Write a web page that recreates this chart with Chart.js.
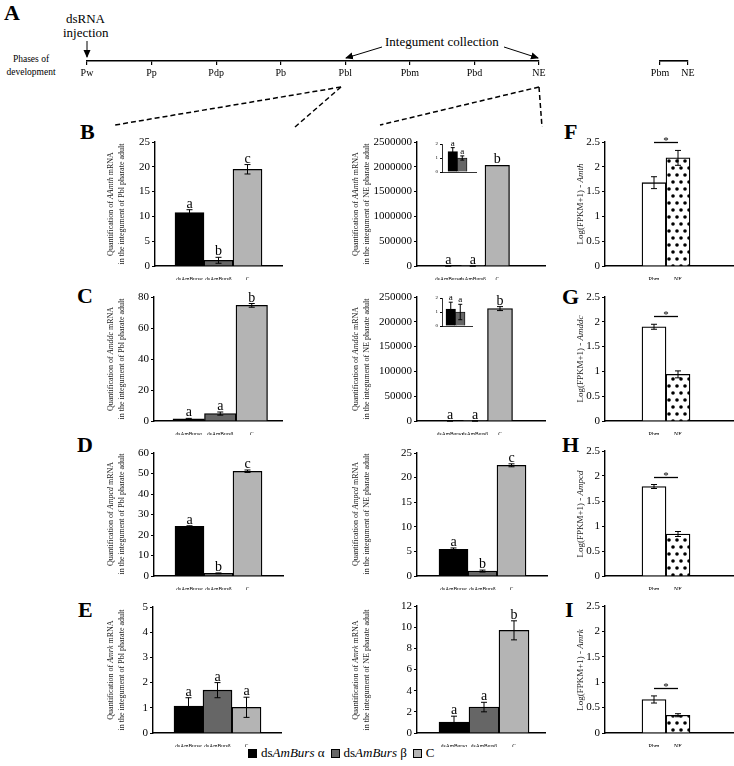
<!DOCTYPE html>
<html><head><meta charset="utf-8">
<script src="https://cdn.jsdelivr.net/npm/chart.js@4.4.1/dist/chart.umd.min.js"></script>
<style>
body{margin:0;width:734px;height:766px;position:relative;background:#fff;font-family:"Liberation Serif","Times New Roman",serif;overflow:hidden;color:#000}
canvas{position:absolute}
.t{position:absolute;white-space:nowrap;line-height:1}
.plab{position:absolute;font-weight:bold;font-size:22px;line-height:1}
.ytitle,.ytitle2{position:absolute;transform:translate(-50%,-50%) rotate(-90deg);white-space:nowrap;line-height:11px;text-align:center;color:#222;filter:grayscale(1);-webkit-font-smoothing:antialiased}
.ytitle{font-size:8px}
.ytitle2{font-size:9px}
#legend{position:absolute;left:248px;top:745px;font-size:13px;display:flex;align-items:center;white-space:nowrap}
#legend .b{display:inline-block;width:7px;height:7px;border:1px solid #000;margin-right:4px}
#legend .it{margin-right:6px}
</style></head><body>
<svg width="734" height="766" style="position:absolute;left:0;top:0;z-index:0">
  <defs><marker id="ah" markerWidth="8" markerHeight="8" refX="7" refY="4" orient="auto" markerUnits="userSpaceOnUse"><path d="M0,0.5 L8,4 L0,7.5 z" fill="#000"/></marker></defs>
  <line x1="87" y1="41" x2="87" y2="57" stroke="#000" stroke-width="1" marker-end="url(#ah)"/>
  <line x1="382" y1="47" x2="346" y2="58" stroke="#000" stroke-width="1" marker-end="url(#ah)"/>
  <line x1="504" y1="47" x2="538" y2="58" stroke="#000" stroke-width="1" marker-end="url(#ah)"/>
  <g stroke="#000" stroke-width="1.5" stroke-dasharray="5,3" fill="none">
    <line x1="341" y1="87" x2="115" y2="125"/>
    <line x1="341" y1="87" x2="295" y2="127"/>
    <line x1="539" y1="87" x2="380" y2="125"/>
    <line x1="539" y1="87" x2="542" y2="127"/>
  </g>
</svg>
<div class="plab" style="left:4px;top:2px">A</div>
<div class="t" style="left:66px;top:12px;font-size:13px">dsRNA</div>
<div class="t" style="left:63px;top:26px;font-size:13px">injection</div>
<div class="t" style="left:4px;top:53px;font-size:9.5px;text-align:center;width:54px;line-height:13px">Phases of<br>development</div>
<div class="t" style="left:385px;top:35px;font-size:13px">Integument collection</div>

<div class="plab" style="left:80px;top:121px">B</div>
<div class="plab" style="left:77px;top:285px">C</div>
<div class="plab" style="left:77px;top:434px">D</div>
<div class="plab" style="left:78px;top:599px">E</div>
<div class="plab" style="left:564px;top:121px">F</div>
<div class="plab" style="left:562px;top:286px">G</div>
<div class="plab" style="left:562px;top:434px">H</div>
<div class="plab" style="left:565px;top:599px">I</div>

<div class="ytitle" style="left:116px;top:204px">Quantification of <i>AAmth</i> mRNA<br>in the integument of Pbl pharate adult</div>
<div class="ytitle" style="left:361px;top:204px">Quantification of <i>AAmth</i> mRNA<br>in the integument of NE pharate adult</div>
<div class="ytitle2" style="left:580px;top:204px">Log(FPKM+1) - <i>Amth</i></div>
<div class="ytitle" style="left:116px;top:359px">Quantification of <i>Amddc</i> mRNA<br>in the integument of Pbl pharate adult</div>
<div class="ytitle" style="left:361px;top:359px">Quantification of <i>Amddc</i> mRNA<br>in the integument of NE pharate adult</div>
<div class="ytitle2" style="left:580px;top:359px">Log(FPKM+1) - <i>Amddc</i></div>
<div class="ytitle" style="left:116px;top:514px">Quantification of <i>Ampcd</i> mRNA<br>in the integument of Pbl pharate adult</div>
<div class="ytitle" style="left:361px;top:514px">Quantification of <i>Ampcd</i> mRNA<br>in the integument of NE pharate adult</div>
<div class="ytitle2" style="left:580px;top:514px">Log(FPKM+1) - <i>Ampcd</i></div>
<div class="ytitle" style="left:116px;top:670px">Quantification of <i>Amrk</i> mRNA<br>in the integument of Pbl pharate adult</div>
<div class="ytitle" style="left:361px;top:670px">Quantification of <i>Amrk</i> mRNA<br>in the integument of NE pharate adult</div>
<div class="ytitle2" style="left:580px;top:670px">Log(FPKM+1) - <i>Amrk</i></div>

<div id="legend">
  <span class="b" style="background:#000"></span><span class="it">ds<i>AmBurs</i> α</span>
  <span class="b" style="background:#666"></span><span class="it">ds<i>AmBurs</i> β</span>
  <span class="b" style="background:#b4b4b4"></span><span>C</span>
</div>

<script>
// ---------- data ----------
const phases = ['Pw','Pp','Pdp','Pb','Pbl','Pbm','Pbd','NE'];
const rnaseqPhases = ['Pbm','NE'];
const treatments = ['dsAmBursα','dsAmBursβ','C'];

// B: Amth
const amthPbl = [10.75, 1.15, 19.5];
const amthPblErr = [0.6, 0.6, 0.95];
const amthPblLetters = ['a','b','c'];
const amthNE = [1.46, 1.0, 2030000];
const amthNEErr = [0.28, 0.15, 0];
const amthNELetters = ['a','a','b'];
const amthFPKM = [1.68, 2.18];
const amthFPKMErr = [0.12, 0.15];
// C: Amddc
const amddcPbl = [1.4, 4.8, 74.6];
const amddcPblErr = [0.3, 1.0, 1.2];
const amddcPblLetters = ['a','a','b'];
const amddcNE = [1.2, 1.0, 226600];
const amddcNEErr = [0.5, 0.55, 4000];
const amddcNELetters = ['a','a','b'];
const amddcFPKM = [1.9, 0.94];
const amddcFPKMErr = [0.05, 0.07];
// D: Ampcd
const ampcdPbl = [24.2, 1.3, 51.1];
const ampcdPblErr = [0.3, 0.2, 0.6];
const ampcdPblLetters = ['a','b','c'];
const ampcdNE = [5.4, 1.0, 22.5];
const ampcdNEErr = [0.3, 0.2, 0.3];
const ampcdNELetters = ['a','b','c'];
const ampcdFPKM = [1.79, 0.84];
const ampcdFPKMErr = [0.04, 0.05];
// E: Amrk
const amrkPbl = [1.07, 1.7, 1.02];
const amrkPblErr = [0.33, 0.3, 0.4];
const amrkPblLetters = ['a','a','a'];
const amrkNE = [1.04, 2.45, 9.7];
const amrkNEErr = [0.55, 0.45, 0.9];
const amrkNELetters = ['a','a','b'];
const amrkFPKM = [0.66, 0.35];
const amrkFPKMErr = [0.07, 0.03];

// ---------- setup ----------
const FONT = '"Liberation Serif","Times New Roman",serif';
Chart.defaults.font.family = FONT;
Chart.defaults.color = '#000';
const COLS = ['#000000', '#666666', '#b4b4b4'];

function dotPattern(ctx) {
  const c = document.createElement('canvas'); c.width = 8; c.height = 14;
  const x = c.getContext('2d');
  x.fillStyle = '#fff'; x.fillRect(0, 0, 8, 14);
  x.fillStyle = '#000';
  [[2, 3], [6, 10]].forEach(([a, b]) => { x.beginPath(); x.arc(a, b, 1.8, 0, Math.PI * 2); x.fill(); });
  return ctx.createPattern(c, 'repeat');
}

const marksPlugin = {
  id: 'marks',
  afterDatasetsDraw(chart) {
    const ds = chart.data.datasets[0], meta = chart.getDatasetMeta(0), ys = chart.scales.y, ctx = chart.ctx;
    const o = chart.options.plugins.marks || {};
    ctx.save();
    ctx.strokeStyle = '#000'; ctx.fillStyle = '#000'; ctx.lineWidth = o.errW || 1;
    let topPx = Infinity;
    meta.data.forEach((bar, i) => {
      const v = ds.data[i].y, e = (ds.errors || [])[i] || 0;
      const yt = ys.getPixelForValue(v + e);
      topPx = Math.min(topPx, yt);
      if (e) {
        const yb = ys.getPixelForValue(Math.max(0, v - e)), c = o.cap || 3;
        ctx.beginPath();
        ctx.moveTo(bar.x, yt); ctx.lineTo(bar.x, yb);
        ctx.moveTo(bar.x - c, yt); ctx.lineTo(bar.x + c, yt);
        ctx.moveTo(bar.x - c, yb); ctx.lineTo(bar.x + c, yb);
        ctx.stroke();
      }
      const L = (ds.letters || [])[i];
      if (L) {
        ctx.font = (o.letterSize || 14) + 'px ' + FONT;
        ctx.textAlign = 'center'; ctx.textBaseline = 'alphabetic';
        ctx.fillText(L, bar.x, yt - (o.letterGap ?? 2));
      }
    });
    if (ds.sig) {
      const y = Math.round(topPx - 8) + 0.5;
      const x0 = meta.data[0].x, x1 = meta.data[1].x;
      ctx.lineWidth = 1.3;
      ctx.beginPath(); ctx.moveTo(x0, y); ctx.lineTo(x1, y); ctx.stroke();
      ctx.font = '11px ' + FONT; ctx.textAlign = 'center'; ctx.textBaseline = 'alphabetic';
      ctx.fillText('*', (x0 + x1) / 2, y + 1);
    }
    ctx.restore();
  }
};

function panel(p) {
  const padL = p.padL ?? 50, padT = p.padT ?? 12, padR = p.padR ?? 3, padB = p.padB ?? 14;
  const W = Math.round(p.ar - p.ax + padL + padR), H = Math.round(p.zero - p.top + padT + padB);
  const cv = document.createElement('canvas');
  cv.width = W; cv.height = H;
  Object.assign(cv.style, { left: (p.ax - padL) + 'px', top: (p.top - padT) + 'px', width: W + 'px', height: H + 'px', zIndex: p.z || 2 });
  document.body.appendChild(cv);
  const ctx = cv.getContext('2d');
  const n = p.values.length;
  const min = -(p.bl - p.ax) / p.bw - 0.5;
  const max = n - 0.5 + (p.ar - p.bl - n * p.bw) / p.bw;
  const colors = p.colors.map(c => c === 'dots' ? dotPattern(ctx) : c);
  return new Chart(ctx, {
    type: 'bar',
    data: { datasets: [{
      data: p.values.map((v, i) => ({ x: i, y: v })),
      backgroundColor: colors, borderColor: '#000', borderWidth: p.bw2 ?? 1.3,
      categoryPercentage: 1, barPercentage: 1,
      errors: p.errors, letters: p.letters, sig: p.sig
    }] },
    options: {
      responsive: false, animation: false, events: [], devicePixelRatio: 1,
      layout: { padding: { left: 0, top: padT, right: padR, bottom: 0 } },
      plugins: { legend: { display: false }, tooltip: { enabled: false },
        marks: { letterSize: p.letterSize || 14, cap: p.cap || 3, errW: 1 } },
      scales: {
        x: {
          type: 'linear', min, max, offset: false, bounds: 'data',
          grid: { display: false, offset: false },
          border: { display: true, color: '#000', width: p.axW || 1.4 },
          afterBuildTicks: s => { s.ticks = p.values.map((_, i) => ({ value: i })); },
          afterFit: s => { s.height = padB; },
          ticks: { display: !!p.labels, callback: v => p.labels ? p.labels[v] : '', font: { size: p.xFont || 5.5 }, padding: 2, maxRotation: 0, autoSkip: false, color: '#000' }
        },
        y: {
          min: 0, max: p.ymax,
          afterFit: s => { s.width = padL; },
          ticks: { stepSize: p.step, callback: v => String(+v.toFixed(4)), font: { size: p.yFont || 11 }, padding: 2, color: '#000' },
          grid: { drawOnChartArea: false, drawTicks: true, tickLength: p.tickLen || 3, color: '#000' },
          border: { display: true, color: '#000', width: p.axW || 1.4 }
        }
      }
    },
    plugins: [marksPlugin]
  });
}

function timeline(labels, left, right, axisY, cvLeft, cvW) {
  const H = 34, top = axisY - 11;
  const cv = document.createElement('canvas');
  cv.width = cvW; cv.height = H;
  Object.assign(cv.style, { left: cvLeft + 'px', top: top + 'px', width: cvW + 'px', height: H + 'px', zIndex: 2 });
  document.body.appendChild(cv);
  new Chart(cv.getContext('2d'), {
    type: 'line',
    data: { labels, datasets: [] },
    options: {
      responsive: false, animation: false, events: [], devicePixelRatio: 1,
      layout: { padding: { left: left - cvLeft, right: cvLeft + cvW - right, top: 0, bottom: 0 } },
      plugins: { legend: { display: false }, tooltip: { enabled: false } },
      scales: {
        x: { offset: false,
          grid: { display: true, drawOnChartArea: false, drawTicks: true, tickLength: 4, color: '#000', lineWidth: 1.2 },
          border: { display: true, color: '#000', width: 1.6 },
          ticks: { font: { size: 10 }, color: '#000', padding: 2, maxRotation: 0, autoSkip: false },
          afterFit: s => { s.height = H - 11; } },
        y: { display: false }
      }
    }
  });
}

timeline(phases, 87, 539, 61, 55, 510);
timeline(rnaseqPhases, 660, 688, 61, 640, 70);

const C3 = COLS, C2 = ['#ffffff', 'dots'];
// Row B
panel({ ax:155, ar:282, top:142, zero:266, bl:175, bw:29, values:amthPbl, errors:amthPblErr, letters:amthPblLetters, labels:treatments, colors:C3, ymax:25, step:5 });
panel({ ax:417, ar:545, top:142, zero:266, bl:436, bw:24.5, values:amthNE, errors:amthNEErr, letters:amthNELetters, labels:treatments, colors:C3, ymax:2500000, step:500000 });
panel({ ax:442, ar:476, top:143, zero:175, bl:448, bw:9.5, values:amthNE.slice(0,2), errors:amthNEErr.slice(0,2), letters:amthNELetters.slice(0,2), colors:C3.slice(0,2), ymax:2, step:0.5, padL:12, padT:4, padR:2, padB:2, yFont:5, letterSize:9, cap:2, tickLen:2, axW:0.8, bw2:0.8, z:3 });
panel({ ax:605, ar:733, top:142, zero:266, bl:642, bw:24, values:amthFPKM, errors:amthFPKMErr, labels:rnaseqPhases, colors:C2, ymax:2.5, step:0.5, sig:true, xFont:6 });
// Row C
panel({ ax:154, ar:282, top:297, zero:421, bl:173, bw:31.5, values:amddcPbl, errors:amddcPblErr, letters:amddcPblLetters, labels:treatments, colors:C3, ymax:80, step:10 });
panel({ ax:417, ar:545, top:297, zero:421, bl:437.5, bw:25, values:amddcNE, errors:amddcNEErr, letters:amddcNELetters, labels:treatments, colors:C3, ymax:250000, step:50000 });
panel({ ax:442, ar:472, top:297, zero:329, bl:446, bw:9.5, values:amddcNE.slice(0,2), errors:amddcNEErr.slice(0,2), letters:amddcNELetters.slice(0,2), colors:C3.slice(0,2), ymax:2, step:0.5, padL:12, padT:4, padR:2, padB:2, yFont:5, letterSize:9, cap:2, tickLen:2, axW:0.8, bw2:0.8, z:3 });
panel({ ax:605, ar:733, top:297, zero:421, bl:642, bw:24, values:amddcFPKM, errors:amddcFPKMErr, labels:rnaseqPhases, colors:C2, ymax:2.5, step:0.5, sig:true, xFont:6 });
// Row D
panel({ ax:154, ar:283, top:453, zero:576, bl:175, bw:29, values:ampcdPbl, errors:ampcdPblErr, letters:ampcdPblLetters, labels:treatments, colors:C3, ymax:60, step:10 });
panel({ ax:417, ar:547, top:453, zero:576, bl:439, bw:29, values:ampcdNE, errors:ampcdNEErr, letters:ampcdNELetters, labels:treatments, colors:C3, ymax:25, step:5 });
panel({ ax:605, ar:733, top:451, zero:576, bl:642, bw:24, values:ampcdFPKM, errors:ampcdFPKMErr, labels:rnaseqPhases, colors:C2, ymax:2.5, step:0.5, sig:true, xFont:6 });
// Row E
panel({ ax:153, ar:281, top:607, zero:733, bl:174, bw:29, values:amrkPbl, errors:amrkPblErr, letters:amrkPblLetters, labels:treatments, colors:C3, ymax:5, step:0.5 });
panel({ ax:417, ar:545, top:606, zero:733, bl:439, bw:30, values:amrkNE, errors:amrkNEErr, letters:amrkNELetters, labels:treatments, colors:C3, ymax:12, step:2 });
panel({ ax:605, ar:733, top:606, zero:733, bl:642, bw:24, values:amrkFPKM, errors:amrkFPKMErr, labels:rnaseqPhases, colors:C2, ymax:2.5, step:0.5, sig:true, xFont:6 });
</script>
</body></html>
